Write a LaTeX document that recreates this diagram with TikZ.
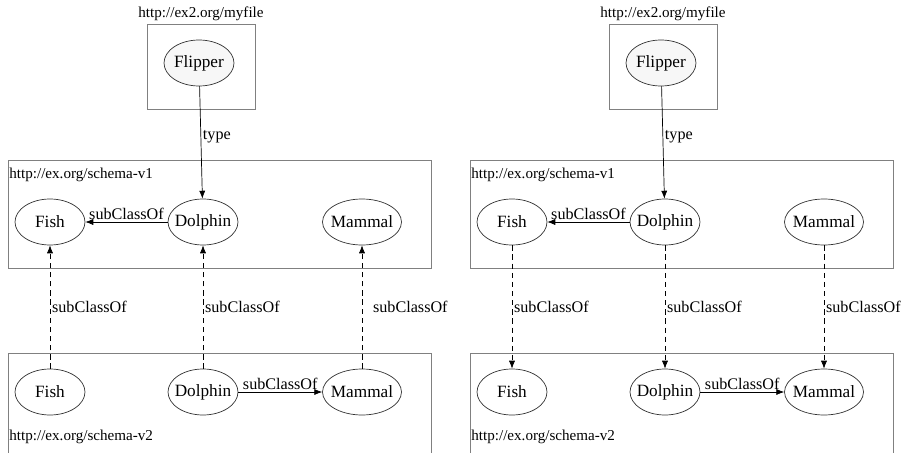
\documentclass[tikz,border=0pt]{standalone}
\usepackage{fontspec}
\setmainfont{Liberation Serif}
\usetikzlibrary{shapes.geometric,arrows.meta}

\begin{document}
\begin{tikzpicture}[x=0.02cm, y=-0.02cm,
  every node/.style={font=\fontsize{9.2}{10}\selectfont},
  cls/.style={ellipse, draw=black!80, fill=white, minimum width=1.4cm, minimum height=0.92cm, inner sep=0pt,
    font=\fontsize{9.8}{11}\selectfont,
    execute at begin node=\hbox to 0pt\bgroup\hss, execute at end node=\hss\egroup},
  grp/.style={draw=black!50},
  ttl/.style={inner sep=0pt, font=\fontsize{8.6}{10}\selectfont},
  rel/.style={-{Latex[length=4.5pt,width=3.5pt]}, black},
  dep/.style={rel, dash pattern=on 3pt off 2.2pt},
  lbl/.style={inner sep=1pt}]
\useasboundingbox (0,0) rectangle (917,453);
\foreach \ox/\p/\a/\b/\mx in {0/l/2/1/9, 462/r/1/2/0}{
\begin{scope}[shift={(\ox,0)}]
  % groups
  \draw[grp] (147,24) rectangle (255,109);
  \draw[grp] (8,160) rectangle (431,268);
  \draw[grp] (8,453) -- (8,353) -- (431,353) -- (431,453);
  \node[ttl, anchor=south] (\p file) at (201,21) {http://ex2.org/myfile};
  \node[ttl, anchor=west] (\p v1) at (9,175) {http://ex.org/schema-v1};
  \node[ttl, anchor=west] (\p v2) at (9,437) {http://ex.org/schema-v2};
  % classes
  \node[cls, fill=black!3] (\p flipper) at (199,63) {Flipper};
  \node[cls] (\p1fish) at (50,222) {Fish};
  \node[cls] (\p1dolphin) at (203,222) {Dolphin};
  \node[cls, minimum width=1.58cm] (\p1mammal) at (362,222) {Mammal};
  \node[cls] (\p2fish) at (50,392) {Fish};
  \node[cls] (\p2dolphin) at (203,392) {Dolphin};
  \node[cls, minimum width=1.58cm] (\p2mammal) at (362,392) {Mammal};
  % edges
  \draw[rel] (\p flipper) -- node[lbl, right, pos=0.45] {type} (\p1dolphin);
  \draw[rel] (\p1dolphin) -- node[lbl, above] {subClassOf} (\p1fish);
  \draw[rel] (\p2dolphin) -- node[lbl, above] {subClassOf} (\p2mammal);
  \foreach \c/\s in {fish/0, dolphin/0, mammal/\mx}
    \draw[dep] (\p\a\c) -- node[lbl, right, xshift=\s*0.567pt] {subClassOf} (\p\b\c);
\end{scope}}
\end{tikzpicture}
\end{document}
